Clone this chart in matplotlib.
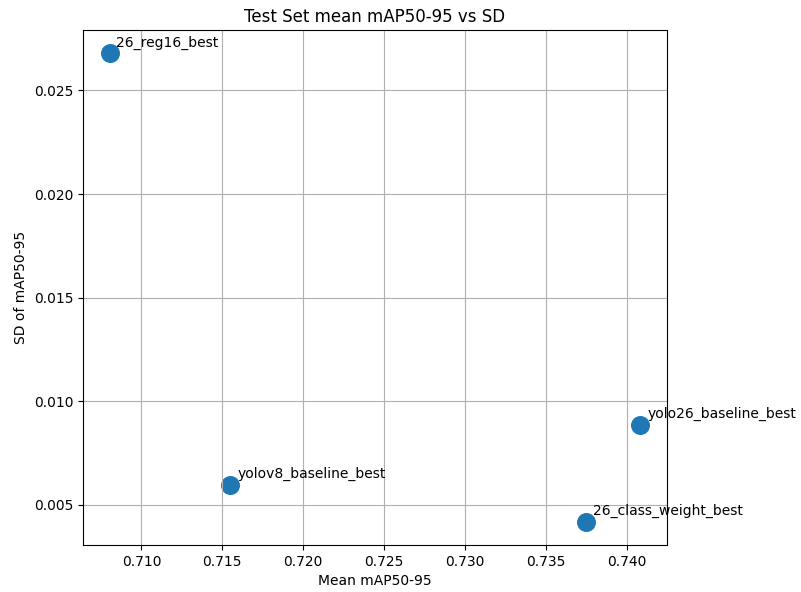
import matplotlib
matplotlib.use("Agg")
import matplotlib.pyplot as plt

# Values
models = ["26_reg16_best", "yolov8_baseline_best", "26_class_weight_best", "yolo26_baseline_best"]
mean_map = [0.70803, 0.71548, 0.73745, 0.74083]
sd_map = [0.02679, 0.00597, 0.00418, 0.00884]

fig = plt.figure(figsize=(8.01, 5.92), dpi=100)
ax = fig.add_axes([0.1036, 0.0794, 0.7291, 0.8699])
ax.scatter(mean_map, sd_map, s=160, color="#1f77b4")
for name, x, y in zip(models, mean_map, sd_map):
    ax.annotate(name, (x, y), textcoords="offset points", xytext=(5, 5))

ax.set_title("Test Set mean mAP50-95 vs SD")
ax.set_xlabel("Mean mAP50-95")
ax.set_ylabel("SD of mAP50-95")
ax.grid(True)

fig.savefig("out.png", dpi=100)
